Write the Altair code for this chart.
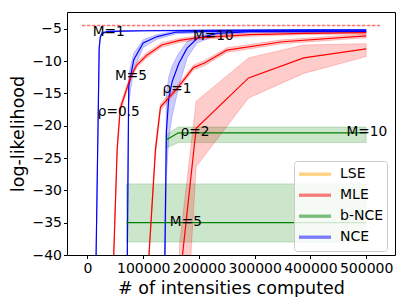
import altair as alt
import pandas as pd

# ---------------- data ----------------
methods = ["LSE", "MLE", "b-NCE", "NCE"]
method_colors = ["#ffa500", "#ff0000", "#008000", "#0000ff"]
band_colors = {"MLE": "#ff0000", "b-NCE": "#008000", "NCE": "#0000ff"}

# NCE, M=1
nce1_x = [12000, 21000, 23000, 26000, 35000, 60000, 100000, 200000, 300000, 400000, 500000]
nce1_y = [-60, -8.0, -6.3, -5.7, -5.45, -5.35, -5.3, -5.25, -5.2, -5.18, -5.15]
nce1_lo = [-60, -8.4, -6.6, -5.85, -5.55, -5.43, -5.37, -5.31, -5.26, -5.24, -5.21]
nce1_hi = [-60, -7.6, -6.0, -5.55, -5.35, -5.27, -5.23, -5.19, -5.14, -5.12, -5.09]

# NCE, M=5
nce5_x = [69500, 74000, 83000, 100000, 125000, 160000, 250000, 350000, 500000]
nce5_y = [-60, -13.9, -9.8, -7.2, -6.2, -5.5, -5.35, -5.3, -5.3]
nce5_lo = [-60, -16.5, -11.2, -7.9, -6.6, -5.75, -5.5, -5.42, -5.4]
nce5_hi = [-60, -12.0, -8.8, -6.7, -5.9, -5.3, -5.22, -5.2, -5.2]

# NCE, M=10
nce10_x = [136000, 141600, 145700, 151800, 163600, 178700, 196600, 232400, 292000, 400000, 500000]
nce10_y = [-60, -20.9, -15.8, -13.2, -10.4, -8.0, -6.5, -5.7, -5.45, -5.45, -5.45]
nce10_lo = [-60, -28, -22, -18.5, -14, -9.5, -7.2, -6.0, -5.6, -5.55, -5.55]
nce10_hi = [-60, -15, -12.5, -10.8, -8.8, -7.0, -6.0, -5.5, -5.3, -5.35, -5.35]

# b-NCE, M=5
bnce5_x = [70000, 200000, 350000, 500000]
bnce5_y = [-35, -35, -35, -35]
bnce5_lo = [-38, -38, -38, -38]
bnce5_hi = [-29, -29, -29, -29]

# b-NCE, M=10
bnce10_x = [141000, 163000, 300000, 500000]
bnce10_y = [-22.2, -21.1, -21.1, -21.1]
bnce10_lo = [-23.5, -22.6, -22.6, -22.6]
bnce10_hi = [-21.4, -20.2, -20.2, -20.2]

# MLE, rho=0.5
mle05_x = [39600, 53200, 58600, 76500, 88400, 106300, 133200, 165000, 196600, 292000, 390000, 500000]
mle05_y = [-60, -23.7, -17.4, -12.7, -10.6, -9.1, -7.5, -6.8, -6.4, -5.9, -5.7, -5.6]
mle05_lo = [-60, -24.5, -18.0, -13.1, -11.0, -9.5, -7.85, -7.1, -6.7, -6.15, -5.9, -5.8]
mle05_hi = [-60, -23.0, -16.8, -12.3, -10.2, -8.7, -7.15, -6.5, -6.1, -5.65, -5.5, -5.4]

# MLE, rho=1
mle1_x = [96000, 122000, 131000, 161000, 190000, 210000, 250000, 350000, 500000]
mle1_y = [-60, -23.7, -17.1, -14.2, -11.0, -10.3, -8.3, -7.0, -6.1]
mle1_lo = [-60, -24.5, -17.6, -14.6, -11.4, -10.7, -8.65, -7.3, -6.4]
mle1_hi = [-60, -23.0, -16.6, -13.8, -10.6, -9.9, -7.95, -6.7, -5.8]

# MLE, rho=2
mle2_x = [165000, 195000, 289000, 388000, 500000]
mle2_y = [-44.4, -20.4, -12.6, -9.5, -8.1]
mle2_lo = [-70, -26.3, -15.7, -11.9, -9.3]
mle2_hi = [-38.5, -16.2, -9.5, -7.5, -7.3]

# reference (dashed) line
ref_x = [-10000]
ref_x2 = [525000]
ref_y = [-4.5]

# annotations
label_text = ["M=1", "M=5", "M=10", "ρ=0.5", "ρ=1", "ρ=2", "M=10", "M=5"]
label_x = [38200, 78000, 225800, 56100, 160700, 193000, 501200, 176500]
label_y = [-5.54, -12.25, -6.04, -17.9, -14.3, -20.95, -21.0, -34.95]

x_ticks = [0, 100000, 200000, 300000, 400000, 500000]
y_ticks = [-40, -35, -30, -25, -20, -15, -10, -5]

# ---------------- tables ----------------
series = [
    ("NCE", "nce1", nce1_x, nce1_y, nce1_lo, nce1_hi),
    ("NCE", "nce5", nce5_x, nce5_y, nce5_lo, nce5_hi),
    ("NCE", "nce10", nce10_x, nce10_y, nce10_lo, nce10_hi),
    ("b-NCE", "bnce5", bnce5_x, bnce5_y, bnce5_lo, bnce5_hi),
    ("b-NCE", "bnce10", bnce10_x, bnce10_y, bnce10_lo, bnce10_hi),
    ("MLE", "mle05", mle05_x, mle05_y, mle05_lo, mle05_hi),
    ("MLE", "mle1", mle1_x, mle1_y, mle1_lo, mle1_hi),
    ("MLE", "mle2", mle2_x, mle2_y, mle2_lo, mle2_hi),
]
rows = []
for method, name, xs, ys, los, his in series:
    for x, y, lo, hi in zip(xs, ys, los, his):
        rows.append({"method": method, "series": name, "col": band_colors[method],
                     "x": x, "y": y, "lo": lo, "hi": hi})
df = pd.DataFrame(rows)

ref_df = pd.DataFrame({"x": ref_x, "x2": ref_x2, "y": ref_y})
lab_df = pd.DataFrame({"text": label_text, "x": label_x, "y": label_y})

xscale = alt.Scale(domain=[-36750, 551750], nice=False, zero=False)
yscale = alt.Scale(domain=[-40, -2.4], nice=False, zero=False)
cscale = alt.Scale(domain=methods, range=method_colors)

xaxis = alt.Axis(values=x_ticks, format="d", title="# of intensities computed",
                 grid=False, domain=False, tickSize=3.5, tickColor="black",
                 labelFontSize=14, titleFontSize=17.5, labelColor="black",
                 titleColor="black", titleFontWeight="normal", labelPadding=3,
                 labelFlush=False, labelOverlap=False)
yaxis = alt.Axis(values=y_ticks, format="d", title="log-likelihood",
                 grid=False, domain=False, tickSize=3.5, tickColor="black",
                 labelFontSize=14, titleFontSize=17.5, labelColor="black",
                 titleColor="black", titleFontWeight="normal", labelPadding=2,
                 labelFlush=False, labelOverlap=False)

X = alt.X("x:Q", scale=xscale, axis=xaxis)

base = alt.Chart(df)

bands = base.mark_area(clip=True, fillOpacity=0.2, strokeOpacity=0.2, strokeWidth=1).encode(
    x=X,
    y=alt.Y("lo:Q", scale=yscale, axis=yaxis),
    y2="hi:Q",
    fill=alt.Fill("col:N", scale=None),
    stroke=alt.Stroke("col:N", scale=None),
    detail="series:N",
)

lines = base.mark_line(clip=True, strokeWidth=1.2).encode(
    x=X,
    y=alt.Y("y:Q", scale=yscale, axis=yaxis),
    color=alt.Color("method:N", scale=cscale,
                    legend=alt.Legend(title=None, orient="none", legendX=227, legendY=149,
                                      symbolType="stroke", symbolSize=1024,
                                      symbolStrokeWidth=3.3, symbolOpacity=0.5,
                                      labelFontSize=14, labelColor="black",
                                      clipHeight=20.4, rowPadding=0, labelOffset=7,
                                      padding=3, fillColor="rgba(255,255,255,0.8)",
                                      strokeColor="#cccccc", cornerRadius=3)),
    detail="series:N",
)

ref = alt.Chart(ref_df).mark_rule(color="#ff0000", opacity=0.55, strokeDash=[3.5, 1.5], strokeWidth=1.6).encode(
    x=X,
    x2="x2:Q",
    y=alt.Y("y:Q", scale=yscale, axis=yaxis),
)

texts = alt.Chart(lab_df).mark_text(fontSize=13.7, color="black", align="center", baseline="middle").encode(
    x=X,
    y=alt.Y("y:Q", scale=yscale, axis=yaxis),
    text="text:N",
)

chart = alt.layer(bands, lines, ref, texts).properties(
    width=328, height=243,
    autosize=alt.AutoSizeParams(type="none"),
    padding={"left": 59, "top": 4, "right": 4, "bottom": 42},
).configure(font="DejaVu Sans").configure_view(stroke="black", strokeWidth=1)

chart.save("out.html", embed_options={"renderer": "svg", "actions": False})
